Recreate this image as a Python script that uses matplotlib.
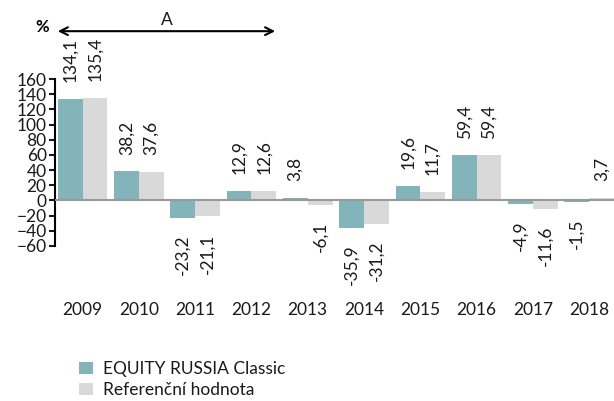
"""
Annual performance: EQUITY RUSSIA Classic vs reference value.
"""

import numpy as np
import matplotlib.pyplot as plt

years = ["2009", "2010", "2011", "2012", "2013", "2014", "2015", "2016", "2017", "2018"]
fund = [134.1, 38.2, -23.2, 12.9, 3.8, -35.9, 19.6, 59.4, -4.9, -1.5]
benchmark = [135.4, 37.6, -21.1, 12.6, -6.1, -31.2, 11.7, 59.4, -11.6, 3.7]
series_names = ["EQUITY RUSSIA Classic", "Referenční hodnota"]
yticks = list(range(-60, 161, 20))

TEAL = "#82b4ba"
GREY = "#d9d9d9"
TEXT = "#1a1a1a"


def fmt(v):
    return f"{v:.1f}".replace(".", ",")


def main():
    plt.rcParams['font.family'] = ['Lato', 'DejaVu Sans']
    plt.rcParams['font.size'] = 12.5

    fig = plt.figure(figsize=(6.14, 4.01), dpi=100)
    ax = fig.add_axes([55 / 614, 1 - 246 / 401, 559 / 614, 167 / 401])

    x = np.arange(len(years))
    w = 0.44
    b1 = ax.bar(x - w / 2, fund, w, color=TEAL, label=series_names[0], zorder=2)
    b2 = ax.bar(x + w / 2, benchmark, w, color=GREY, label=series_names[1], zorder=2)

    # value labels, rotated, above positive / below negative bars
    for bars, vals in ((b1, fund), (b2, benchmark)):
        for bar, v in zip(bars, vals):
            cx = bar.get_x() + bar.get_width() / 2
            off = 12 if v >= 0 else -12
            ax.annotate(fmt(v), (cx, v), xytext=(0, off), textcoords="offset points",
                        rotation=90, ha="center", va="bottom" if v >= 0 else "top",
                        color=TEXT, fontsize=12.5)

    ax.axhline(0, color="#999999", lw=1.5, zorder=3)

    ax.set_xlim(-0.49, 9.44)
    ax.set_ylim(-60, 160)
    ax.set_yticks(yticks)
    ax.set_xticks(x)
    ax.set_xticklabels(years)
    ax.tick_params(axis="x", length=0, pad=40, colors=TEXT)
    ax.tick_params(axis="y", length=4, width=1.5, direction="out", pad=2, colors=TEXT)
    for s in ("top", "right", "bottom"):
        ax.spines[s].set_visible(False)
    ax.spines["left"].set_linewidth(1.5)

    # period arrow "A" spanning 2009-2013
    ax.annotate("", xy=(-0.49, 223), xytext=(3.47, 223), xycoords="data",
                arrowprops=dict(arrowstyle="<->", lw=1.5, color="black",
                                mutation_scale=14), annotation_clip=False)
    fig.text(167 / 614, 1 - 20 / 401, "A", ha="center", va="center", color=TEXT, fontsize=12.5)
    fig.text(42 / 614, 1 - 27 / 401, "%", ha="center", va="center", color="black",
             fontsize=12, fontweight="bold")

    fig.legend(handles=[b1, b2], labels=series_names, loc="upper left",
               bbox_to_anchor=(79 / 614, 1 - 361 / 401), frameon=False,
               handlelength=0.8, handleheight=0.7, handletextpad=0.6,
               labelspacing=0.3, borderaxespad=0, borderpad=0, fontsize=12.5,
               labelcolor=TEXT)

    fig.savefig("out.png", dpi=100)


if __name__ == '__main__':
    main()
